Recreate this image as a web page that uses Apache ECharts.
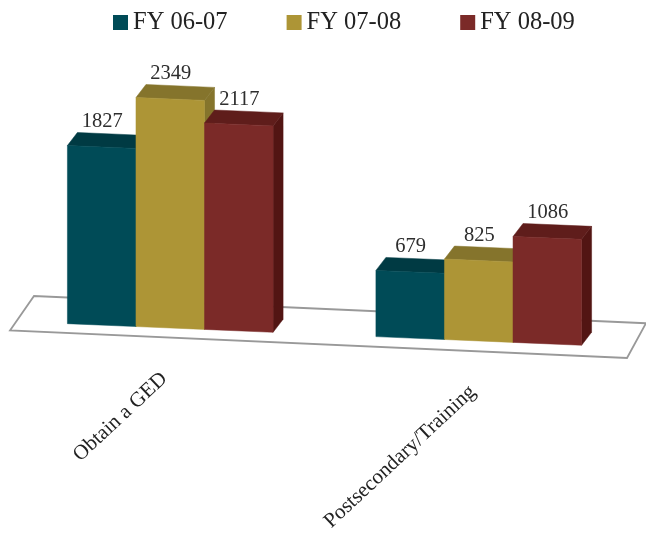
<!DOCTYPE html>
<html>
<head>
<meta charset="utf-8">
<style>html,body{margin:0;padding:0;background:#fff}#c{width:646px;height:536px;filter:blur(0.6px)}</style>
<script src="https://cdn.jsdelivr.net/npm/echarts@6/dist/echarts.min.js"></script>
</head>
<body>
<div id="c"></div>
<script>
const categories = ['Obtain a GED', 'Postsecondary/Training'];
const fy0607 = [1827, 679];
const fy0708 = [2349, 825];
const fy0809 = [2117, 1086];

const FONT = '"Liberation Serif", serif';
const SLOPE = 0.042, DEPTH_X = 10, DEPTH_Y = 13;
const lean = (x, cs) => SLOPE * (x - cs.x);

function barSeries(name, values, index, front, top, side) {
  return {
    name, type: 'custom', z: 3 + index,
    itemStyle: { color: front },
    data: values.map((v, i) => [i, v]),
    encode: { x: 0, y: 1 },
    renderItem(params, api) {
      const cs = params.coordSys;
      const band = api.size([1, 0])[0];
      const w = band * 2 / 9;
      const c = api.coord([api.value(0), api.value(1)]);
      const b = api.coord([api.value(0), 0]);
      const x0 = c[0] + (index - 1.5) * w, x1 = x0 + w;
      const y0 = lean(x0, cs), y1 = lean(x1, cs);
      const fl = [x0, b[1] + y0], fr = [x1, b[1] + y1];
      const tl = [x0, c[1] + y0], tr = [x1, c[1] + y1];
      const d = p => [p[0] + DEPTH_X, p[1] - DEPTH_Y];
      const poly = (pts, fill) => ({ type: 'polygon', shape: { points: pts }, style: { fill, stroke: fill, lineWidth: 0.5 } });
      return {
        type: 'group',
        children: [
          poly([fr, tr, d(tr), d(fr)], side),
          poly([tl, tr, d(tr), d(tl)], top),
          poly([fl, fr, tr, tl], front),
          { type: 'text', style: { text: String(api.value(1)), x: (x0 + x1) / 2 + 0.5, y: (tl[1] + tr[1]) / 2 - 25,
              fill: '#2e2e2e', font: '20.5px ' + FONT, align: 'center', verticalAlign: 'middle' } }
        ]
      };
    }
  };
}

const floorSeries = {
  name: 'floor', type: 'custom', z: 1, silent: true, data: [[0, 0]],
  encode: { x: 0, y: 1 },
  renderItem(params, api) {
    const cs = params.coordSys;
    const base = api.coord([0, 0])[1];
    const s = 0.0445;
    const pts = [
      [cs.x - 6, base + 9],
      [cs.x + 18, base - 25.5],
      [cs.x + cs.width + 13, base - 25.5 + s * (cs.width - 5)],
      [cs.x + cs.width - 6, base + 9 + s * cs.width]
    ];
    return { type: 'polygon', shape: { points: pts }, style: { fill: '#fff', stroke: '#999', lineWidth: 1.8 } };
  }
};

const labelSeries = {
  name: 'labels', type: 'custom', z: 2, silent: true,
  data: categories.map((c, i) => [i, 0]),
  encode: { x: 0, y: 1 },
  renderItem(params, api) {
    const cs = params.coordSys;
    const p = api.coord([api.value(0), 0]);
    return {
      type: 'text', x: p[0] - 6, y: p[1] + lean(p[0], cs) + 48, rotation: 43 * Math.PI / 180,
      style: { text: categories[api.value(0)], x: 0, y: 0, fill: '#222', font: '21px ' + FONT, align: 'right', verticalAlign: 'middle' }
    };
  }
};

const chart = echarts.init(document.getElementById('c'), null, { renderer: 'canvas' });
chart.setOption({
  animation: false,
  backgroundColor: '#fff',
  legend: {
    data: ['FY 06-07', 'FY 07-08', 'FY 08-09'],
    left: 108, top: 5, itemWidth: 15, itemHeight: 15, itemGap: 59, icon: 'rect',
    textStyle: { fontFamily: FONT, fontSize: 24.5, color: '#222' }
  },
  grid: { left: 16, right: 13, top: 29, height: 292.5 },
  xAxis: { type: 'category', data: categories, show: false },
  yAxis: { type: 'value', min: 0, max: 3000, show: false },
  series: [
    floorSeries, labelSeries,
    barSeries('FY 06-07', fy0607, 0, '#004b57', '#003a43', '#00303a'),
    barSeries('FY 07-08', fy0708, 1, '#ad9536', '#85742c', '#85742c'),
    barSeries('FY 08-09', fy0809, 2, '#7b2a28', '#5f1d1b', '#521513')
  ]
});
</script>
</body>
</html>
